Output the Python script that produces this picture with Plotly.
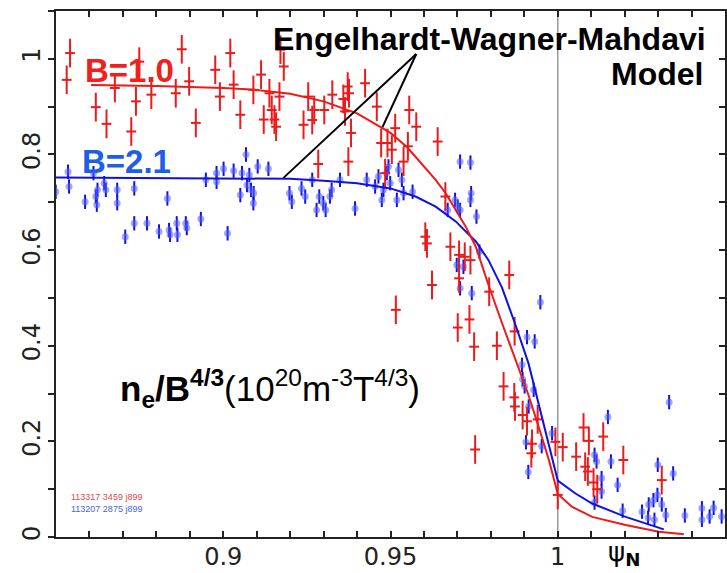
import plotly.graph_objects as go

# ---------------- data ----------------
RED_X = [0.8532, 0.8542, 0.8619, 0.8651, 0.8676, 0.8725, 0.8739, 0.8749, 0.8785, 0.8858,
         0.8876, 0.8898, 0.8918, 0.8976, 0.8990, 0.9021, 0.9031, 0.9051, 0.9090, 0.9113,
         0.9121, 0.9138, 0.9145, 0.9153, 0.9158, 0.9168, 0.9171, 0.9181,
         0.9240, 0.9254, 0.9266, 0.9272, 0.9284, 0.9302, 0.9326, 0.9359, 0.9364, 0.9372,
         0.9376, 0.9374, 0.9382, 0.9424, 0.9459, 0.9472, 0.9484, 0.9491, 0.9504, 0.9514,
         0.9539, 0.9552, 0.9556, 0.9577, 0.9641,
         0.9604, 0.9609, 0.9624, 0.9664, 0.9679, 0.9705, 0.9705, 0.9722, 0.9739, 0.9795,
         0.9855, 0.9516, 0.9701, 0.9736, 0.9750, 0.9818, 0.9871, 0.9838, 0.9870, 0.9872,
         0.9895, 0.9908, 0.9940, 0.9923, 0.9921, 0.9753, 0.9993, 1.0015, 1.0000, 1.0055,
         1.0077, 1.0082, 1.0093, 1.0090, 1.0107, 1.0118, 1.0136, 1.0196, 1.0311]
RED_Y = [0.956, 1.012, 0.899, 0.864, 0.939, 0.848, 0.911, 0.994, 0.925, 0.928,
         1.020, 0.953, 0.866, 0.977, 0.921, 1.012, 0.946, 0.883, 0.935, 0.967,
         0.873, 0.928, 0.893, 0.873, 0.858, 0.921, 1.019, 0.984,
         0.862, 0.921, 0.872, 0.893, 0.780, 0.893, 0.925, 0.916, 0.890, 0.942,
         0.928, 0.785, 0.845, 0.949, 0.900, 0.824, 0.761, 0.824, 0.810, 0.855,
         0.785, 0.817, 0.893, 0.858, 0.827,
         0.628, 0.614, 0.527, 0.712, 0.607, 0.590, 0.541, 0.586, 0.579, 0.513,
         0.548, 0.475, 0.438, 0.455, 0.398, 0.400, 0.430, 0.315, 0.292, 0.273,
         0.255, 0.242, 0.246, 0.195, 0.175, 0.183, 0.199, 0.188, 0.088, 0.168,
         0.229, 0.147, 0.201, 0.137, 0.114, 0.100, 0.210, 0.161, 0.119]

BLUE_X = [0.8499, 0.8536, 0.8539, 0.8587, 0.8612, 0.8619, 0.8622, 0.8624, 0.8644, 0.8649,
          0.8683, 0.8683, 0.8734, 0.8707, 0.8734, 0.8772, 0.8808, 0.8833, 0.8838, 0.8841,
          0.8861, 0.8863, 0.8888, 0.8891, 0.8933, 0.8948, 0.8980, 0.8980, 0.9001, 0.9013,
          0.9031, 0.9051, 0.9056, 0.9068, 0.9071, 0.9078, 0.9083, 0.9091, 0.9090, 0.9103,
          0.9135, 0.9198, 0.9205, 0.9234, 0.9245, 0.9266, 0.9279, 0.9287, 0.9299, 0.9306,
          0.9319, 0.9324, 0.9349, 0.9394, 0.9429, 0.9454, 0.9464, 0.9474, 0.9479, 0.9489,
          0.9494, 0.9499, 0.9519, 0.9524, 0.9539, 0.9534, 0.9566, 0.9708, 0.9739, 0.9671,
          0.9693, 0.9701, 0.9708, 0.9741, 0.9739, 0.9757, 0.9766, 0.9698, 0.9718, 0.9708,
          0.9743, 0.9948, 0.9908, 0.9931, 0.9893, 0.9895, 0.9901, 0.9928, 0.9913, 0.9983,
          0.9905, 0.9952, 0.9912, 1.0150, 1.0333, 1.0110, 1.0116, 1.0159, 1.0131, 1.0131,
          1.0110, 1.0179, 1.0194, 1.0299, 1.0345, 1.0298, 1.0252, 1.0272, 1.0286, 1.0270,
          1.0289, 1.0311, 1.0323, 1.0380, 1.0431, 1.0431, 1.0466, 1.0454, 1.0490]
BLUE_Y = [0.722, 0.764, 0.733, 0.701, 0.761, 0.712, 0.695, 0.726, 0.740, 0.726,
          0.726, 0.698, 0.729, 0.628, 0.656, 0.656, 0.639, 0.708, 0.642, 0.632,
          0.656, 0.632, 0.656, 0.646, 0.665, 0.747, 0.743, 0.761, 0.770, 0.635,
          0.766, 0.715, 0.761, 0.800, 0.736, 0.757, 0.726, 0.719, 0.698, 0.775,
          0.770, 0.719, 0.701, 0.729, 0.712, 0.747, 0.684, 0.712, 0.698, 0.684,
          0.712, 0.726, 0.747, 0.687, 0.747, 0.733, 0.754, 0.705, 0.726, 0.761,
          0.775, 0.740, 0.705, 0.768, 0.719, 0.747, 0.722, 0.785, 0.783, 0.684,
          0.705, 0.691, 0.684, 0.719, 0.705, 0.670, 0.597, 0.569, 0.565, 0.520,
          0.510, 0.491, 0.418, 0.409, 0.360, 0.330, 0.315, 0.308, 0.273, 0.217,
          0.198, 0.190, 0.136, 0.251, 0.282, 0.172, 0.158, 0.158, 0.123, 0.095,
          0.072, 0.109, 0.055, 0.151, 0.133, 0.088, 0.053, 0.068, 0.077, 0.040,
          0.036, 0.068, 0.046, 0.045, 0.060, 0.036, 0.061, 0.043, 0.043]

RED_ERR = 0.03
BLUE_ERR = 0.015

# model curves
RED_FIT_X = [0.8605, 0.880, 0.900, 0.910, 0.920, 0.930, 0.940, 0.950, 0.955, 0.960,
             0.9635, 0.9665, 0.9695, 0.9725, 0.9755, 0.9793, 0.9833, 0.9873, 0.9913, 0.9944,
             0.9974, 1.000, 1.0043, 1.0103, 1.0203, 1.0302, 1.0377]
RED_FIT_Y = [0.945, 0.943, 0.939, 0.935, 0.927, 0.911, 0.886, 0.845, 0.815, 0.775,
             0.747, 0.719, 0.684, 0.649, 0.607, 0.527, 0.448, 0.372, 0.296, 0.228,
             0.160, 0.090, 0.063, 0.042, 0.025, 0.011, 0.006]
BLUE_FIT_X = [0.850, 0.880, 0.900, 0.920, 0.930, 0.940, 0.950, 0.9575, 0.9635, 0.9695,
              0.9755, 0.9793, 0.9833, 0.9873, 0.9913, 0.9944, 0.9974, 1.000, 1.0053, 1.0103,
              1.0203, 1.0317]
BLUE_FIT_Y = [0.752, 0.751, 0.750, 0.749, 0.745, 0.740, 0.729, 0.712, 0.691, 0.660,
              0.618, 0.579, 0.522, 0.445, 0.362, 0.275, 0.190, 0.118, 0.091, 0.070,
              0.042, 0.016]

X_TICKS = [0.9, 0.95, 1.0]
X_TICK_TEXT = ["0.9", "0.95", "1"]
Y_TICKS = [0, 0.2, 0.4, 0.6, 0.8, 1.0]
Y_TICK_TEXT = ["0", "0.2", "0.4", "0.6", "0.8", "1"]
Y_ALL_TICKS = [round(0.1 * i, 1) for i in range(11)]

# pointer lines from the label to the two curves (data units)
POINTER_APEX = (0.9577, 1.010)
POINTER_ENDS = [(0.9180, 0.751), (0.9476, 0.857)]

RED = "#ec1a1a"
BLUE = "#1010e6"

fig = go.Figure()

fig.add_trace(go.Scatter(
    x=BLUE_X, y=BLUE_Y, mode="markers",
    marker=dict(symbol="circle", size=7, color="rgba(80,95,255,0.55)", line=dict(width=0)),
    error_y=dict(type="constant", value=BLUE_ERR, color=BLUE, thickness=2, width=0),
    showlegend=False, hoverinfo="skip"))

fig.add_trace(go.Scatter(
    x=RED_X, y=RED_Y, mode="markers",
    marker=dict(symbol="line-ew", size=7, color=RED, line=dict(width=2, color=RED)),
    error_y=dict(type="constant", value=RED_ERR, color=RED, thickness=2, width=0),
    showlegend=False, hoverinfo="skip"))

fig.add_trace(go.Scatter(x=BLUE_FIT_X, y=BLUE_FIT_Y, mode="lines",
                         line=dict(color=BLUE, width=2), showlegend=False, hoverinfo="skip"))
fig.add_trace(go.Scatter(x=RED_FIT_X, y=RED_FIT_Y, mode="lines",
                         line=dict(color=RED, width=2), showlegend=False, hoverinfo="skip"))

# dummy trace to hold the right-hand tick axis
fig.add_trace(go.Scatter(x=[None], y=[None], yaxis="y2", showlegend=False, hoverinfo="skip"))

# vertical separatrix line
fig.add_shape(type="line", xref="x", yref="paper", x0=1.0, x1=1.0, y0=0, y1=1,
              line=dict(color="#999999", width=1.5), layer="below")
for ex, ey in POINTER_ENDS:
    fig.add_shape(type="line", xref="x", yref="y", x0=POINTER_APEX[0], y0=POINTER_APEX[1],
                  x1=ex, y1=ey, line=dict(color="black", width=2))

tick_font = dict(family="DejaVu Sans", size=24, color="#222")
fig.update_layout(
    width=727, height=573,
    margin=dict(l=56, r=2, t=11, b=36, autoexpand=False),
    plot_bgcolor="white", paper_bgcolor="white",
    xaxis=dict(range=[0.85, 1.05], showgrid=False, zeroline=False,
               showline=True, linecolor="#222", linewidth=2, mirror="ticks",
               ticks="inside", ticklen=6, tickwidth=1.5, tickcolor="#222",
               tickvals=X_TICKS, ticktext=X_TICK_TEXT,
               minor=dict(dtick=0.01, tick0=0.85, ticks="inside", ticklen=6,
                          tickwidth=1.5, tickcolor="#222", showgrid=False),
               tickfont=tick_font, automargin=False, ticklabelstandoff=-3),
    yaxis=dict(range=[0, 1.1], showgrid=False, zeroline=False,
               showline=True, linecolor="#222", linewidth=2, mirror=True,
               ticks="outside", ticklen=6, tickwidth=1.5, tickcolor="#222",
               tickvals=Y_TICKS, ticktext=Y_TICK_TEXT,
               minor=dict(dtick=0.1, tick0=0, ticks="outside", ticklen=6,
                          tickwidth=1.5, tickcolor="#222", showgrid=False),
               tickangle=-90, tickfont=tick_font, automargin=False,
               ticklabelstandoff=-2),
    yaxis2=dict(range=[0, 1.1], overlaying="y", side="right", showgrid=False,
                zeroline=False, showline=False, ticks="inside", ticklen=6, tickwidth=1.5,
                tickcolor="#222", tickvals=Y_ALL_TICKS, showticklabels=False),
)

bold = "Liberation Sans"
ann = [
    dict(text="<b>Engelhardt-Wagner-Mahdavi</b>", x=0.9746, y=0.947, xanchor="right",
         font=dict(family=bold, size=32, color="black")),
    dict(text="<b>Model</b>", x=0.970, y=0.880, xanchor="right",
         font=dict(family=bold, size=32, color="black")),
    dict(text="<b>B=1.0</b>", x=0.040, y=0.886, xanchor="left",
         font=dict(family=bold, size=33, color="#f0201c")),
    dict(text="<b>B=2.1</b>", x=0.036, y=0.713, xanchor="left",
         font=dict(family=bold, size=33, color="#1f5ee6")),
    dict(text="<b>n<sub>e</sub>/B<sup>4/3</sup></b>(10<sup>20</sup>m<sup>-3</sup>T<sup>4/3</sup>)",
         x=0.0927, y=0.283, xanchor="left",
         font=dict(family="Liberation Sans", size=35, color="black")),
    dict(text="113317 3459 j899", x=0.0194, y=0.076, xanchor="left",
         font=dict(family="Liberation Sans", size=9, color="#e04a4a")),
    dict(text="113207 2875 j899", x=0.0194, y=0.053, xanchor="left",
         font=dict(family="Liberation Sans", size=9, color="#4a63e0")),
    dict(text="ψ<sub><b>N</b></sub>", x=0.849, y=-0.031, xanchor="center",
         font=dict(family="DejaVu Sans", size=26, color="black")),
]
for a in ann:
    a.update(xref="paper", yref="paper", yanchor="middle", showarrow=False)
fig.update_layout(annotations=ann)

fig.write_html("out.html", config={"displayModeBar": False},
               post_script="document.body.style.margin='0px';")
